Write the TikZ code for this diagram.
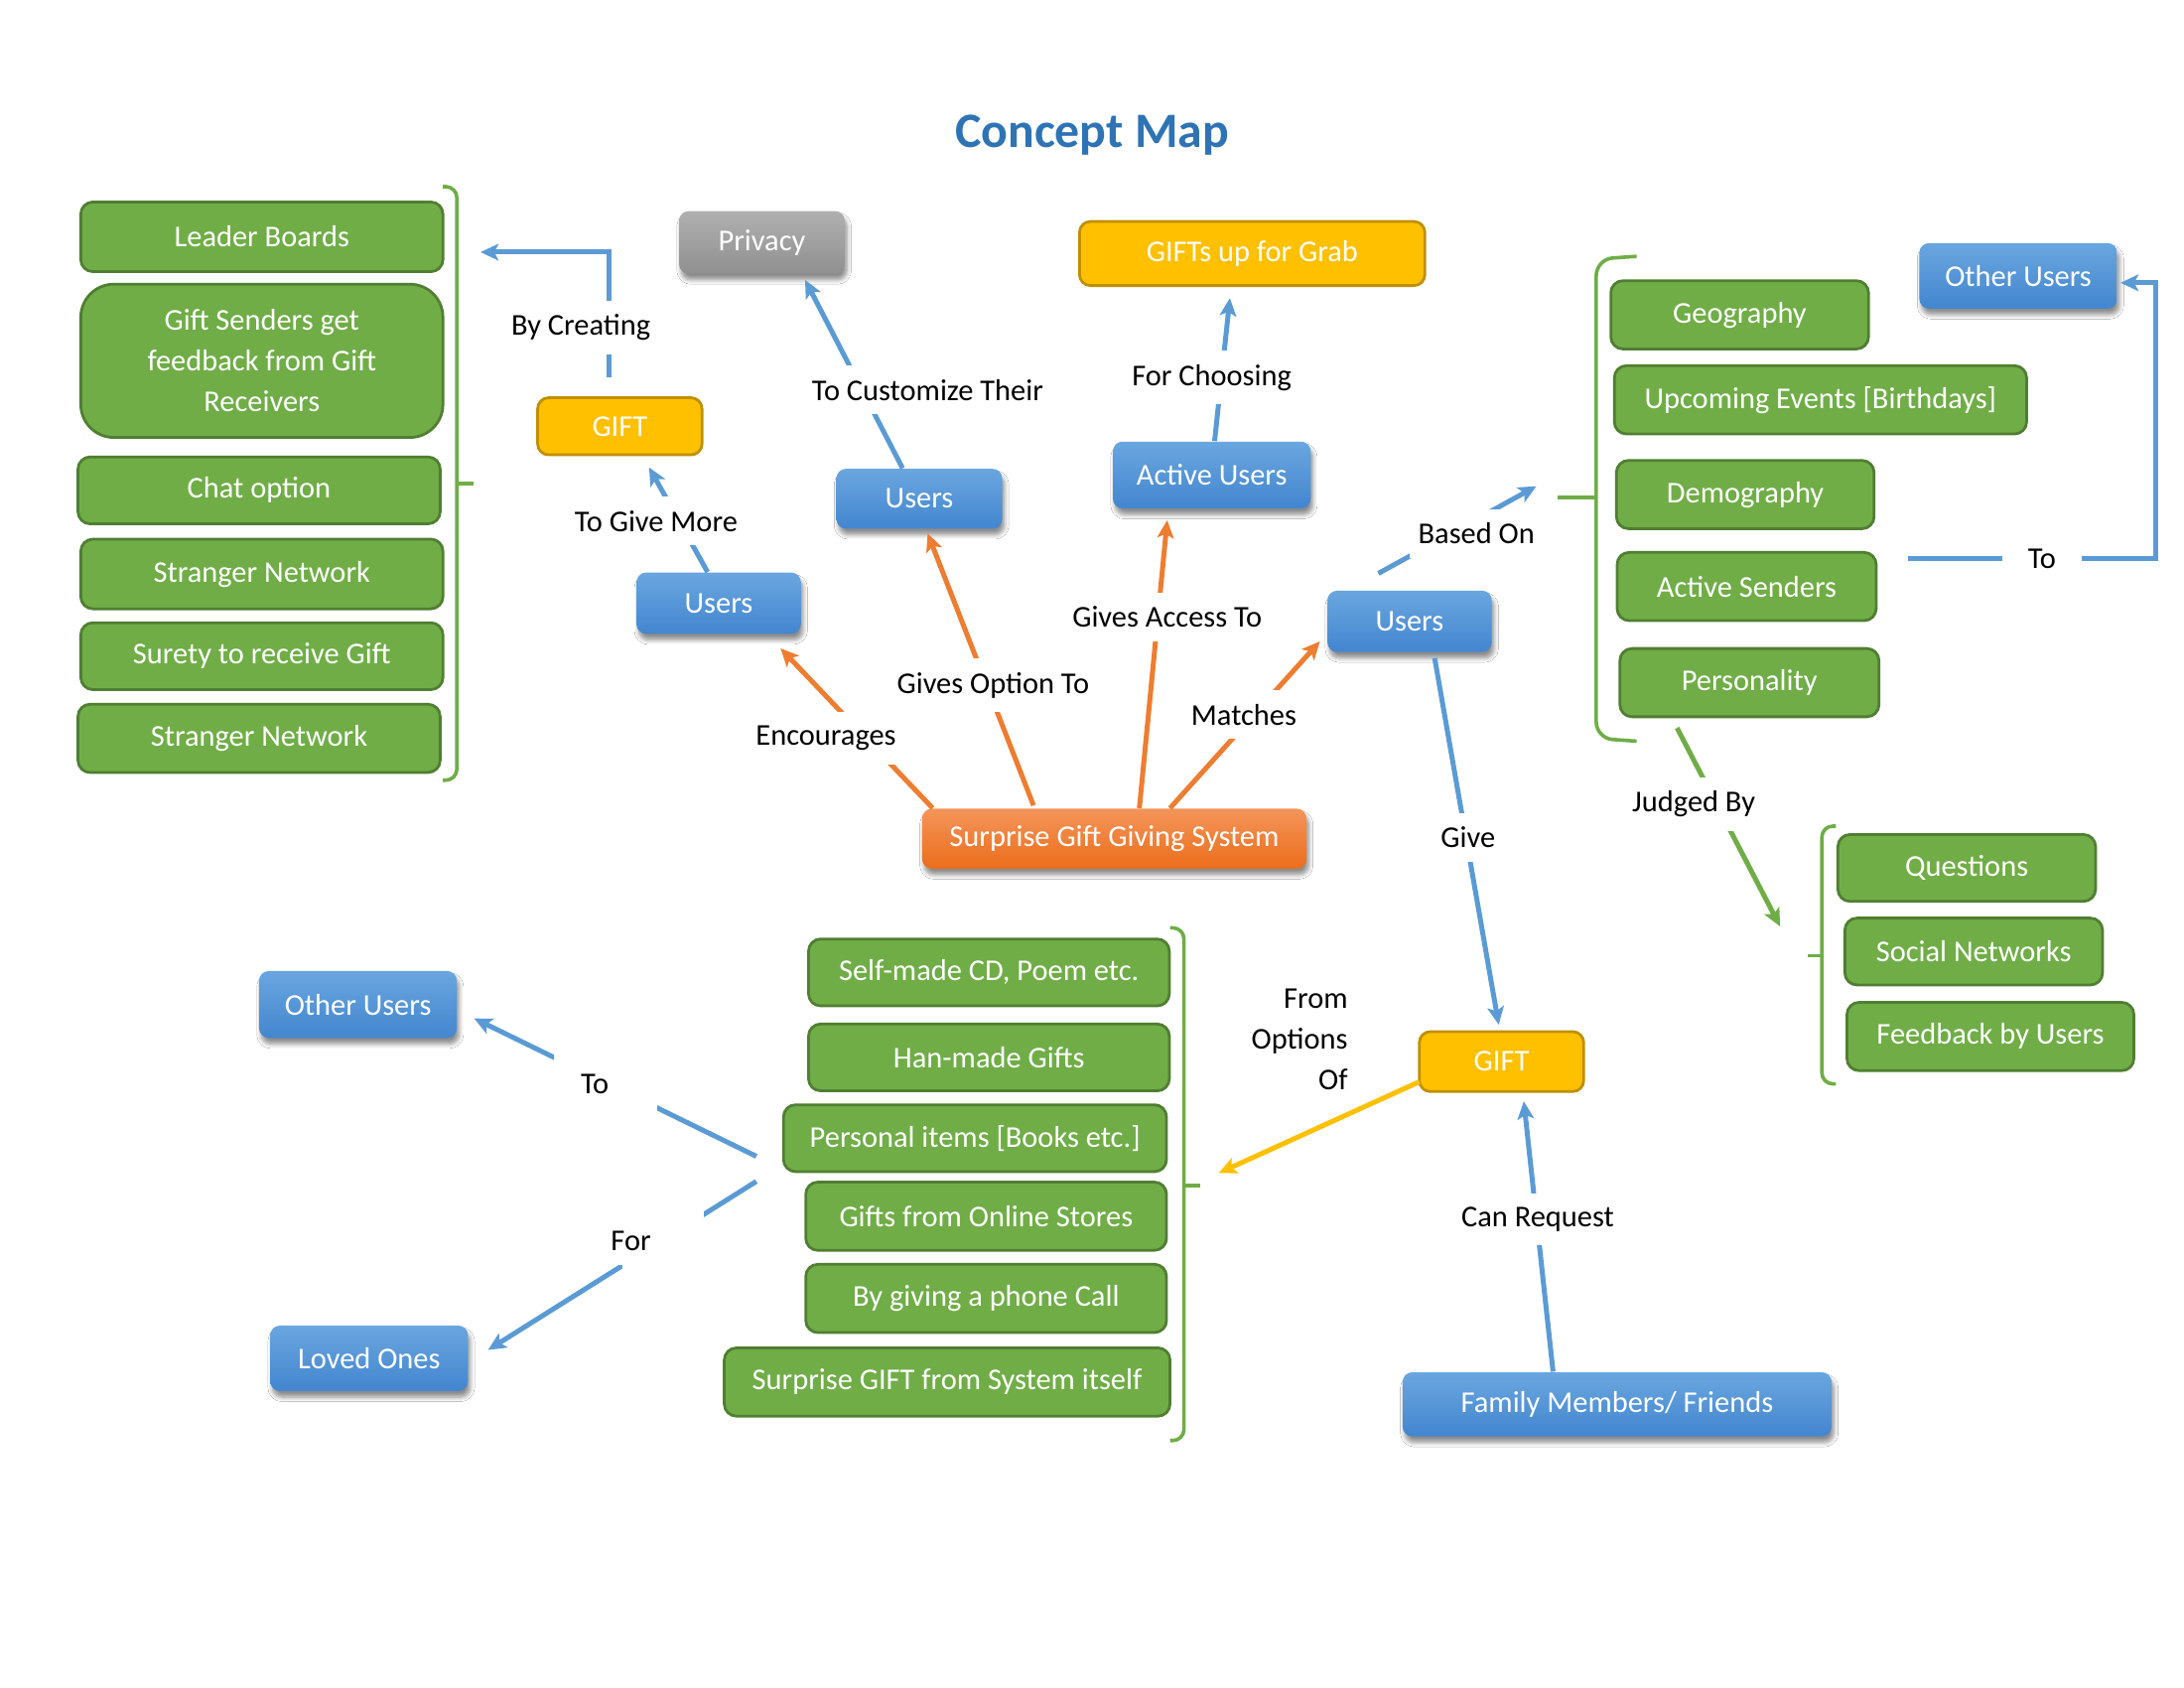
\documentclass[tikz,border=0pt]{standalone}
\usepackage{fontspec}
\setmainfont{Carlito}
\usetikzlibrary{arrows.meta,shadows,shadows.blur,calc}
\definecolor{gfill}{HTML}{70AD47}
\definecolor{gdark}{HTML}{507E32}
\definecolor{bline}{HTML}{5B9BD5}
\definecolor{btop}{HTML}{6AA6DF}
\definecolor{bbot}{HTML}{4386CF}
\definecolor{otop}{HTML}{F4955A}
\definecolor{obot}{HTML}{EB6D1B}
\definecolor{oline}{HTML}{ED7D31}
\definecolor{gytop}{HTML}{B0B0B0}
\definecolor{gybot}{HTML}{909090}
\definecolor{yfill}{HTML}{FFC000}
\definecolor{ydark}{HTML}{BF9000}
\definecolor{titleblue}{HTML}{2E74B5}
\def\pu{0.0178189cm}
\tikzset{
  base/.style={font=\fontsize{11}{14.8}\selectfont, text=white, align=center, inner sep=0pt},
  gbox/.style={base, draw=gdark, fill=gfill, line width=1pt, rounded corners=4.4pt},
  shad/.style={blur shadow={shadow xshift=0.8pt, shadow yshift=-2.2pt, shadow blur steps=6, shadow blur radius=1.6pt, shadow opacity=45}},
  bbox/.style={base, top color=btop, bottom color=bbot, rounded corners=3.5pt, shad},
  obox/.style={base, top color=otop, bottom color=obot, rounded corners=3.5pt, shad},
  gybox/.style={base, top color=gytop, bottom color=gybot, rounded corners=3.5pt, shad},
  ybox/.style={base, draw=ydark, fill=yfill, line width=1pt, rounded corners=4pt},
  lbl/.style={font=\fontsize{11}{14.8}\selectfont, text=black, fill=white, inner xsep=3pt, inner ysep=5pt, align=center},
  tip/.style={-{Stealth[length=6.5pt,width=6pt,inset=1.5pt]}},
  bl/.style={draw=bline, line width=1.8pt, tip},
  ol/.style={draw=oline, line width=1.8pt, tip},
  grl/.style={draw=gfill, line width=1.8pt, tip},
  yl/.style={draw=yfill, line width=1.8pt, tip},
  brk/.style={draw=gfill, line width=1.3pt, rounded corners=4pt},
}
\begin{document}
\begin{tikzpicture}[x=0.0178189cm,y=-0.0178189cm]
\useasboundingbox[fill=white] (0,0) rectangle (1568,1211.6);

% title
\node[font=\fontsize{18}{22}\selectfont\bfseries, text=titleblue] (title) at (784,97) {Concept Map};

% brackets
\draw[brk] (318,134) -- (328,134) -- (328,560) -- (318,560);
\draw[brk] (328,347) -- (340,347);
\draw[brk, rounded corners=6pt] (1175,184) -- (1146,186) -- (1146,530) -- (1175,532);
\draw[brk] (1146,357) -- (1118,357);
\draw[brk] (1318,593) -- (1308,593) -- (1308,778) -- (1318,778);
\draw[brk] (1308,686) -- (1298,686);
\draw[brk] (840,666) -- (850,666) -- (850,1034) -- (840,1034);
\draw[brk] (850,851) -- (862,851);

% left column green boxes
\node[gbox, minimum width=260*\pu, minimum height=50*\pu] (lb) at (188,170) {Leader Boards};
\node[gbox, rounded corners=12pt, minimum width=260*\pu, minimum height=110*\pu] (gs) at (188,259) {Gift Senders get\\feedback from Gift\\Receivers};
\node[gbox, minimum width=260*\pu, minimum height=48*\pu] (co) at (186,352) {Chat option};
\node[gbox, minimum width=260*\pu, minimum height=50*\pu] (sn1) at (188,412) {Stranger Network};
\node[gbox, minimum width=260*\pu, minimum height=48*\pu] (sr) at (188,471) {Surety to receive Gift};
\node[gbox, minimum width=260*\pu, minimum height=49*\pu] (sn2) at (186,530) {Stranger Network};

% right group 1
\node[gbox, minimum width=185*\pu, minimum height=49*\pu] (geo) at (1249,226) {Geography};
\node[gbox, minimum width=296*\pu, minimum height=49*\pu] (ue) at (1307,287) {Upcoming Events [Birthdays]};
\node[gbox, minimum width=185*\pu, minimum height=49*\pu] (demo) at (1253,355) {Demography};
\node[gbox, minimum width=186*\pu, minimum height=49*\pu] (as) at (1254,421) {Active Senders};
\node[gbox, minimum width=186*\pu, minimum height=49*\pu] (pers) at (1256,490) {Personality};

% right group 2
\node[gbox, minimum width=185*\pu, minimum height=48*\pu] (q) at (1412,623) {Questions};
\node[gbox, minimum width=185*\pu, minimum height=48*\pu] (soc) at (1417,683) {Social Networks};
\node[gbox, minimum width=206*\pu, minimum height=49*\pu] (fb) at (1429,744) {Feedback by Users};

% bottom group
\node[gbox, minimum width=259*\pu, minimum height=48*\pu] (sm) at (710,698) {Self-made CD, Poem etc.};
\node[gbox, minimum width=259*\pu, minimum height=48*\pu] (hm) at (710,759) {Han-made Gifts};
\node[gbox, minimum width=275*\pu, minimum height=48*\pu] (pi) at (700,817) {Personal items [Books etc.]};
\node[gbox, minimum width=259*\pu, minimum height=49*\pu] (os) at (708,873) {Gifts from Online Stores};
\node[gbox, minimum width=259*\pu, minimum height=49*\pu] (pc) at (708,932) {By giving a phone Call};
\node[gbox, minimum width=320*\pu, minimum height=49*\pu] (sg) at (680,992) {Surprise GIFT from System itself};

% blue / other nodes
\node[bbox, minimum width=118*\pu, minimum height=44*\pu] (u1) at (516,433) {Users};
\node[bbox, minimum width=119*\pu, minimum height=43*\pu] (u2) at (660,358) {Users};
\node[bbox, minimum width=142*\pu, minimum height=48*\pu] (au) at (870,341) {Active Users};
\node[bbox, minimum width=118*\pu, minimum height=44*\pu] (u3) at (1012,446) {Users};
\node[bbox, minimum width=142*\pu, minimum height=47*\pu] (ouR) at (1449,198) {Other Users};
\node[bbox, minimum width=142*\pu, minimum height=48*\pu] (ouL) at (257,721) {Other Users};
\node[bbox, minimum width=142*\pu, minimum height=47*\pu] (lo) at (265,975) {Loved Ones};
\node[bbox, minimum width=308*\pu, minimum height=46*\pu] (fam) at (1161,1008) {Family Members/ Friends};
\node[gybox, minimum width=119*\pu, minimum height=45*\pu] (priv) at (547,174) {Privacy};
\node[obox, minimum width=276*\pu, minimum height=43*\pu] (sgs) at (800,602) {Surprise Gift Giving System};
\node[ybox, minimum width=118*\pu, minimum height=41*\pu] (g1) at (445,306) {GIFT};
\node[ybox, minimum width=248*\pu, minimum height=46*\pu] (gg) at (899,182) {GIFTs up for Grab};
\node[ybox, minimum width=118*\pu, minimum height=43*\pu] (g2) at (1078,762) {GIFT};

% free connector ends
\coordinate (bcEnd) at (345,181);
\coordinate (toStart) at (1370,401);
\coordinate (toCorner) at (1548,401);
\coordinate (bl1) at (543,830);
\coordinate (bl2) at (543,848);
\coordinate (nubR1) at (1118,357);
\coordinate (nubR2) at (1298,686);
\coordinate (nubB) at (862,851);

% connectors
\draw[bl] ($(g1.north)+(-8,-14)$) |- (bcEnd);
\draw[bl] ($(u1.north)+(-8,0)$) -- ($(g1.south)+(21,8)$);
\draw[bl] ($(u2.north)+(-12,0)$) -- ($(priv.south)+(31,4)$);
\draw[bl] ($(au.north)+(2,0)$) -- ($(gg.south)+(-16,8)$);
\draw[ol] ($(sgs.north west)+(8,0)$) -- ($(u1.south east)+(-15,10)$);
\draw[ol] ($(sgs.north)+(-58,-2)$) -- ($(u2.south)+(6,3)$);
\draw[ol] ($(sgs.north)+(18,0)$) -- ($(au.south)+(-32,8)$);
\draw[ol] ($(sgs.north)+(40,0)$) -- ($(u3.south west)+(-5,-8)$);
\draw[bl] ($(u3.north west)+(37,-12)$) -- ($(nubR1)+(-15,-8)$);
\draw[bl] ($(u3.south)+(18,4)$) -- ($(g2.north)+(-2,-4)$);
\draw[bl] ($(fam.north)+(-46,0)$) -- ($(g2.south)+(16,6)$);
\draw[yl] ($(g2.south west)+(1,-8)$) -- ($(nubB)+(13,-9)$);
\draw[grl] ($(pers.south west)+(42,7)$) -- ($(nubR2)+(-20,-21)$);
\draw[bl] (toStart) -- (toCorner) |- ($(ouR.east)+(2,5)$);
\draw[bl] (bl1) -- ($(ouL.east)+(12,10)$);
\draw[bl] (bl2) -- ($(lo.east)+(14,-6)$);

% white backing of the two text boxes at lower left
\fill[white] (398,756) rectangle (472,800);
\fill[white] (447,866) rectangle (505,912);

% labels
\node[lbl] (lbc) at (417,235) {By Creating};
\node[lbl] (lgm) at (471,374) {To Give More};
\node[lbl] (lct) at (666,280) {To Customize Their};
\node[lbl] (lfc) at (870,271) {For Choosing};
\node[lbl] (lga) at (838,443) {Gives Access To};
\node[lbl] (lgo) at (713,492) {Gives Option To};
\node[lbl] (len) at (593,530) {Encourages};
\node[lbl] (lma) at (893,513) {Matches};
\node[lbl] (lbo) at (1060,383) {Based On};
\node[lbl, minimum width=57*\pu] (lto) at (1466,401) {To};
\node[lbl] (ljb) at (1216,577) {Judged By};
\node[lbl] (lgi) at (1054,601) {Give};
\node[font=\fontsize{11}{14.8}\selectfont, align=right, anchor=east, inner sep=0pt] (lfo) at (968,746) {From\\Options\\Of};
\node[lbl] (lcr) at (1104,875) {Can Request};
\node[lbl] (lto2) at (427,778) {To};
\node[lbl] (lfor) at (453,891) {For};
\end{tikzpicture}
\end{document}
